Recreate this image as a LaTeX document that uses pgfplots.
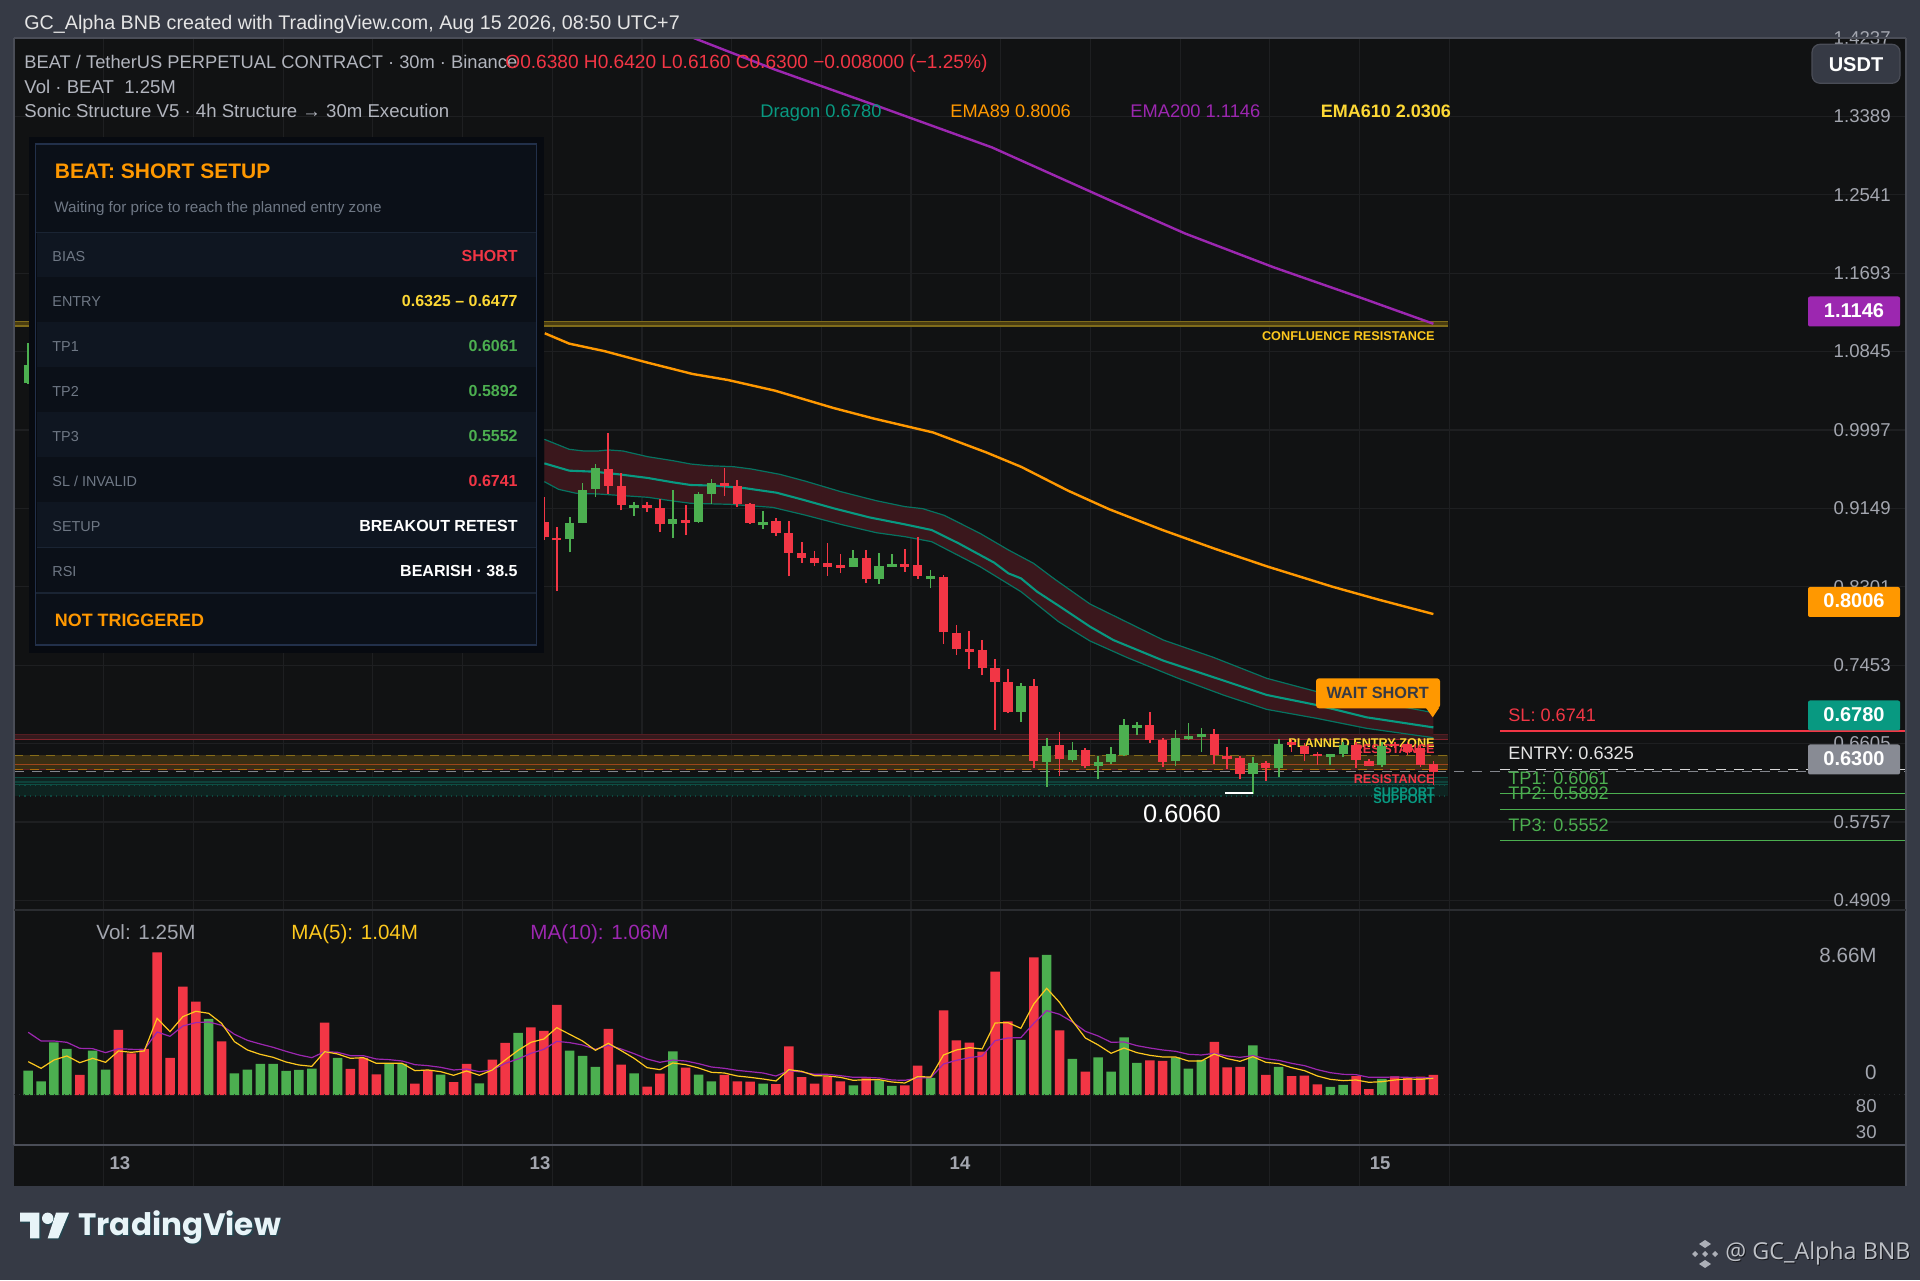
\documentclass[border=0pt]{standalone}
\usepackage{fontspec}
\usepackage{pgfplots}
\usepackage{pgfplotstable}
\pgfplotsset{compat=1.18}
\setmainfont{Liberation Sans}
\newfontfamily\pop{Poppins}
\newfontfamily\opn{Open Sans}
\definecolor{frame}{HTML}{363A45}
\definecolor{body}{HTML}{111213}
\definecolor{gridc}{HTML}{1E1F21}
\definecolor{edge}{HTML}{4A4D57}
\definecolor{tickc}{HTML}{A3A6AF}
\definecolor{legc}{HTML}{B2B5BE}
\definecolor{up}{HTML}{4CAF50}
\definecolor{dn}{HTML}{F23645}
\definecolor{teal}{HTML}{089981}
\definecolor{purp}{HTML}{9C27B0}
\definecolor{org}{HTML}{FF9800}
\definecolor{yel}{HTML}{FDC81E}
\definecolor{yel2}{HTML}{FDD835}
\definecolor{panA}{HTML}{0F1621}
\definecolor{panB}{HTML}{0B1018}
\definecolor{panE}{HTML}{22304A}
\definecolor{panL}{HTML}{1A2433}
\definecolor{panS}{HTML}{070A10}
\definecolor{panT}{HTML}{6F7885}
\definecolor{zoneR}{HTML}{351A1D}
\definecolor{zoneY}{HTML}{3A2F14}
\definecolor{zoneT}{HTML}{0E2320}
\definecolor{zoneC}{HTML}{4A3D10}
\definecolor{bandc}{HTML}{3A171C}
\definecolor{shadowc}{HTML}{23454F}
\definecolor{logoc}{HTML}{E8F4F8}
\pgfplotstableread{
i h t b l
0 1.0938 1.0700 1.0505 1.0494
42 .9059 .8991 .8814 .8674
43 .9420 .9351 .8994 .8987
44 .9633 .9582 .9355 .9272
47 .9222 .9186 .9157 .9070
50 .9351 .9031 .8984 .8832
52 .9323 .9305 .9002 .8994
53 .9463 .9420 .9305 .9196
57 .9121 .9002 .8966 .8930
64 .8695 .8612 .8515 .8515
66 .8663 .8526 .8389 .8331
67 .8652 .8551 .8518 .8518
70 .8479 .8414 .8382 .8291
77 .7257 .7231 .6946 .6842
79 .6665 .6579 .6406 .6135
81 .6622 .6536 .6427 .6402
83 .6471 .6406 .6363 .6218
84 .6572 .6489 .6402 .6384
85 .6867 .6802 .6478 .6471
86 .6838 .6802 .6773 .6701
89 .6752 .6662 .6413 .6363
90 .6824 .6691 .6658 .6647
91 .6773 .6705 .6676 .6514
95 .6456 .6391 .6276 .6060
97 .6651 .6604 .6337 .6244
101 .6492 .6489 .6463 .6370
102 .6626 .6590 .6492 .6456
105 .6626 .6579 .6370 .6348
}\greencandles
\pgfplotstableread{
i h t b l
40 .9276 .9002 .8836 .8807
41 .8944 .8832 .8803 .8255
45 .9961 .9571 .9395 .9305
46 .9528 .9391 .9186 .9128
48 .9222 .9182 .9153 .9113
49 .9247 .9150 .8980 .8894
51 .9182 .9023 .8994 .8861
54 .9589 .9424 .9391 .9283
55 .9452 .9391 .9196 .9160
56 .9211 .9193 .8991 .8984
58 .9041 .9012 .8883 .8850
59 .9012 .8879 .8666 .8414
60 .8785 .8663 .8612 .8562
61 .8684 .8612 .8558 .8522
62 .8771 .8555 .8518 .8421
63 .8652 .8537 .8504 .8450
65 .8702 .8616 .8382 .8342
68 .8713 .8551 .8518 .8461
69 .8843 .8533 .8414 .8385
71 .8425 .8403 .7815 .7682
72 .7891 .7805 .7624 .7563
73 .7823 .7624 .7596 .7415
74 .7725 .7613 .7426 .7343
75 .7523 .7422 .7275 .6752
76 .7412 .7271 .6946 .6932
78 .7303 .7231 .6417 .6337
80 .6734 .6590 .6438 .6254
82 .6553 .6536 .6366 .6337
87 .6943 .6802 .6647 .6615
88 .6662 .6647 .6406 .6352
92 .6763 .6705 .6478 .6384
93 .6572 .6474 .6442 .6330
94 .6474 .6453 .6276 .6218
96 .6420 .6391 .6337 .6204
98 .6651 .6622 .6590 .6518
99 .6608 .6579 .6492 .6413
100 .6518 .6492 .6467 .6373
103 .6626 .6593 .6427 .6344
104 .6442 .6413 .6366 .6363
106 .6626 .6600 .6579 .6554
107 .6626 .6600 .6518 .6481
108 .6590 .6561 .6373 .6348
109 .6420 .6380 .6300 .6160
}\redcandles
\pgfplotsset{
 pane/.style={scale only axis, anchor=south west, width=946pt, xmin=-1.1015, xmax=145.66,
  axis line style={draw=none}, major tick length=0pt,
  xmajorgrids, grid style={color=gridc,line width=.55pt},
  xtick={5.86,12.82,19.78,26.74,33.69,40.66,47.61,54.57,61.52,68.48,75.44,82.40,89.35,96.31,103.26,110.23},
  xticklabels={},
  ytick pos=right, yticklabel pos=right,
  tick label style={text=tickc,inner sep=0pt},
  yticklabel style={anchor=east}},
 hl/.style={line width=.6pt,no markers,forget plot},
}
\newcommand\candles[2]{%
 \addplot[forget plot,draw=none,mark=none,error bars/.cd,y dir=plus,y explicit,error mark=none,
   error bar style={line width=.85pt,color=#2}]
   table[x=i,y=l,y error expr=\thisrow{h}-\thisrow{l}]{#1};
 \addplot[forget plot,draw=none,mark=none,error bars/.cd,y dir=plus,y explicit,error mark=none,
   error bar style={line width=4.65pt,color=#2}]
   table[x=i,y=b,y error expr=\thisrow{t}-\thisrow{b}]{#1};}
\newcommand\hlev[2]{\addplot[hl,#2] coordinates {(-1.1015,#1)(110.14,#1)};}
\newcommand\sz[1]{\fontsize{#1}{#1}\selectfont}
\newcommand\pri[3]{\node[anchor=mid east,inner sep=0pt,text=#3,font=\sz{6.35}\bfseries] at (axis cs:109.13,#1) {#2};}
\newcommand\ptag[3]{\fill[#3,rounded corners=1pt] (1808,#1) rectangle (1900,#1+30);
  \node[text=white,font=\sz{10}\bfseries,inner sep=0pt,anchor=center] at (1854,#1+14) {#2};}
\newcommand\prow[5]{\fill[#5] (36.5,#1) rectangle (535.5,#1+45);
  \draw[panL,line width=.5pt] (36.5,#1+45) -- (535.5,#1+45);
  \node[anchor=mid west,inner sep=0pt,text=panT,font=\sz{7.2}] at (52,#1+24) {#2};
  \node[anchor=mid east,inner sep=0pt,text=#3,font=\sz{8}\bfseries] at (518,#1+24) {#4};}
\begin{document}
\begin{tikzpicture}
\fill[frame] (0,0) rectangle (960pt,640pt);
\fill[body] (7pt,47pt) rectangle (953pt,621pt);
% ---------------- price pane
\begin{axis}[pane, at={(7pt,185pt)}, height=436pt, ymin=0.4805, ymax=1.4237,
 ymajorgrids,
 ytick={1.4237,1.3389,1.2541,1.1693,1.0845,0.9997,0.9149,0.8301,0.7453,0.6605,0.5757,0.4909},
 yticklabels={1.4237,1.3389,1.2541,1.1693,1.0845,0.9997,0.9149,0.8301,0.7453,0.6605,0.5757,0.4909},
 yticklabel style={xshift=-7.5pt,font=\sz{9.3}}]
% zones
\fill[zoneC] (axis cs:-1.1015,1.1173) rectangle (axis cs:110.14,1.1122);
\hlev{1.1173}{color=zoneC!70!yel2}
\hlev{1.1122}{color=zoneC!70!yel2}
\fill[zoneR] (axis cs:-1.1015,.6705) rectangle (axis cs:110.14,.6649);
\hlev{.6705}{color=dn!30!body}
\hlev{.6649}{color=dn!50!body}
\fill[zoneY] (axis cs:-1.1015,.6477) rectangle (axis cs:110.14,.6325);
\hlev{.6477}{color=yel!50!body,line width=.8pt,dash pattern=on 4.5pt off 3.5pt}
\hlev{.6381}{color=org!50!dn!60!body}
\hlev{.6325}{color=dn!35!body,line width=.7pt}
\hlev{.6325}{color=org!65!body,line width=.8pt,dash pattern=on 4.5pt off 3.5pt}
\fill[zoneT] (axis cs:-1.1015,.6240) rectangle (axis cs:110.14,.6165);
\fill[zoneT] (axis cs:-1.1015,.6152) rectangle (axis cs:110.14,.6038);
\hlev{.6240}{color=teal!45!body}
\hlev{.6190}{color=teal!35!body}
\hlev{.6165}{color=teal!45!body}
\hlev{.6152}{color=teal!40!body,dotted}
\hlev{.6038}{color=teal!40!body,dotted}
\addplot[hl,color=tickc!80!black,line width=.6pt,dash pattern=on 5pt off 4pt] coordinates {(-1.1015,.6300)(145.66,.6300)};
% right-hand levels
\addplot[hl,color=dn,line width=.55pt] coordinates {(114.17,.6741)(145.66,.6741)};
\addplot[hl,color=white!85!black,line width=.5pt,dash pattern=on 5pt off 4pt] coordinates {(114.17,.6325)(145.66,.6325)};
\addplot[hl,color=up,line width=.5pt] coordinates {(114.17,.6061)(145.66,.6061)};
\addplot[hl,color=up,line width=.5pt] coordinates {(114.17,.5892)(145.66,.5892)};
\addplot[hl,color=up,line width=.5pt] coordinates {(114.17,.5552)(145.66,.5552)};
% dragon band: upper edge forward, lower edge back
\addplot[fill=bandc,draw=none,forget plot] coordinates {
(40.04,.9896)(41.97,.9788)(43.08,.9770)(44.19,.9770)(45.02,.9781)(46.13,.9770)(48.06,.9708)(50.01,.9665)(51.39,.9629)(52.77,.9611)(54.71,.9600)(56.10,.9575)(58.32,.9517)(60.25,.9445)(63.03,.9330)(65.79,.9232)(68.01,.9168)(69.39,.9146)(71.05,.9074)(73.83,.8879)(76.04,.8699)(77.98,.8555)(79.64,.8382)(82.36,.8115)(88.05,.7725)(91.93,.7538)(96.07,.7311)(99.95,.7167)(103.82,.7076)(109,.6939)
(109,.6669)(103.82,.6770)(99.95,.6878)(96.07,.6975)(92.71,.7130)(89.08,.7318)(85.20,.7538)(82.36,.7715)(79.92,.7924)(77.01,.8248)(73.83,.8519)(70.08,.8789)(68.01,.8843)(65.79,.8886)(63.03,.8976)(60.25,.9077)(57.75,.9160)(54.44,.9193)(51.39,.9204)(50.01,.9229)(48.06,.9269)(46.13,.9287)(44.19,.9305)(42.52,.9312)(41.14,.9355)(40.04,.9438)};
\addplot[color=teal!75!black,line width=.6pt,forget plot] coordinates {
(40.04,.9896)(41.97,.9788)(43.08,.9770)(44.19,.9770)(45.02,.9781)(46.13,.9770)(48.06,.9708)(50.01,.9665)(51.39,.9629)(52.77,.9611)(54.71,.9600)(56.10,.9575)(58.32,.9517)(60.25,.9445)(63.03,.9330)(65.79,.9232)(68.01,.9168)(69.39,.9146)(71.05,.9074)(73.83,.8879)(76.04,.8699)(77.98,.8555)(79.64,.8382)(82.36,.8115)(88.05,.7725)(91.93,.7538)(96.07,.7311)(99.95,.7167)(103.82,.7076)(109,.6939)};
\addplot[color=teal!75!black,line width=.6pt,forget plot] coordinates {
(40.04,.9438)(41.14,.9355)(42.52,.9312)(44.19,.9305)(46.13,.9287)(48.06,.9269)(50.01,.9229)(51.39,.9204)(54.44,.9193)(57.75,.9160)(60.25,.9077)(63.03,.8976)(65.79,.8886)(68.01,.8843)(70.08,.8789)(73.83,.8519)(77.01,.8248)(79.92,.7924)(82.36,.7715)(85.20,.7538)(89.08,.7318)(92.71,.7130)(96.07,.6975)(99.95,.6878)(103.82,.6770)(109,.6669)};
\addplot[color=teal,line width=1.05pt,forget plot] coordinates {
(40.04,.9636)(41.97,.9557)(43.91,.9546)(45.85,.9517)(48.06,.9478)(50.01,.9431)(51.39,.9402)(53.33,.9395)(55.54,.9369)(58.04,.9319)(59.98,.9247)(62.47,.9150)(65.24,.9052)(68.01,.8976)(70.08,.8915)(72.17,.8771)(74.93,.8562)(76.04,.8446)(77.01,.8392)(78.26,.8248)(79.92,.8097)(82.36,.7870)(84.17,.7725)(88.05,.7502)(91.42,.7347)(96.07,.7131)(99.95,.7022)(103.82,.6889)(109,.6780)};
% EMAs
\addplot[color=org,line width=1.2pt,forget plot] coordinates {
(40.07,1.1043)(41.97,1.0931)(44.70,1.0850)(47.89,1.0731)(51.53,1.0603)(54.27,1.0538)(57.91,1.0423)(62.46,1.0235)(65.64,1.0119)(70.20,.9970)(74.29,.9756)(77.03,.9598)(80.67,.9340)(83.85,.9140)(87.95,.8917)(92.05,.8712)(96.15,.8519)(101.16,.8302)(104.80,.8160)(109,.8006)};
\addplot[color=purp,line width=1.2pt,forget plot] coordinates {
(51.01,1.4270)(57.91,1.3896)(66.10,1.3490)(74.75,1.3054)(83.85,1.2485)(89.76,1.2121)(96.60,1.1757)(103.42,1.1425)(109,1.1146)};
% labels behind the candles
\pri{.6622}{PLANNED ENTRY ZONE}{yel2}
\pri{.6550}{RESISTANCE}{dn}
% candles
\candles{\greencandles}{up}
\candles{\redcandles}{dn}
% labels above them
\pri{1.1024}{CONFLUENCE RESISTANCE}{yel}
\pri{.6233}{RESISTANCE}{dn}
\pri{.6095}{SUPPORT}{teal}
\pri{.6009}{SUPPORT}{teal}
\end{axis}
% ---------------- volume pane
\begin{axis}[pane, at={(7pt,92.5pt)}, height=92.5pt, ymin=0, ymax=11.44,
 ytick={8.66}, yticklabels={8.66M}, extra y ticks={0}, extra y tick labels={0},
 extra y tick style={yticklabel style={yshift=11.5pt}},
 yticklabel style={xshift=-14.5pt,font=\sz{10.3}}]
\addplot[ybar,bar width=4.75pt,bar shift=0pt,fill=up,draw=none,forget plot] coordinates {
(0,1.505)(1,.845)(2,3.258)(3,2.846)(5,2.742)(6,1.567)(14,4.701)(16,1.34)(17,1.567)(18,1.918)(19,1.918)(20,1.485)(21,1.547)(22,1.629)(24,2.289)(28,1.959)(29,1.918)(32,1.258)(35,.722)(38,3.835)(42,2.742)(43,2.413)(44,1.732)(47,1.34)(50,2.701)(52,1.258)(53,.845)(57,.701)(64,.598)(66,.907)(67,.557)(70,1.052)(77,3.402)(79,8.66)(81,2.227)(83,2.33)(84,1.443)(85,3.567)(86,1.98)(89,2.33)(90,1.629)(91,2.165)(95,3.072)(97,1.732)(101,.495)(102,.619)(105,.99)};
\addplot[ybar,bar width=4.75pt,bar shift=0pt,fill=dn,draw=none,forget plot] coordinates {
(4,1.237)(7,4.021)(8,2.578)(9,2.846)(10,8.825)(11,2.289)(12,6.70)(13,5.774)(15,3.32)(23,4.475)(25,1.608)(26,2.289)(27,1.278)(30,.701)(31,1.547)(33,.804)(34,1.918)(36,2.186)(37,3.217)(39,4.186)(40,3.959)(41,5.567)(45,4.083)(46,1.876)(48,.516)(49,1.32)(51,1.691)(54,1.237)(55,.845)(56,.825)(58,.68)(59,3.011)(60,1.113)(61,.701)(62,1.134)(63,.845)(65,1.031)(68,.598)(69,1.815)(71,5.237)(72,3.382)(73,3.237)(74,2.681)(75,7.629)(76,4.557)(78,8.516)(80,4.0)(82,1.443)(87,2.144)(88,2.103)(92,3.279)(93,1.711)(94,1.732)(96,1.237)(98,1.175)(99,1.196)(100,.66)(103,1.175)(104,.371)(106,1.155)(107,1.072)(108,1.134)(109,1.25)};
\addplot[color=purp,line width=.6pt,forget plot] coordinates {
(0,3.877)(1,3.34)(2,3.34)(3,3.258)(4,2.887)(5,2.866)(6,2.619)(7,2.866)(8,2.825)(9,2.804)(10,3.897)(11,3.629)(12,4.268)(13,4.475)(14,4.516)(15,4.31)(16,3.753)(17,3.382)(18,3.155)(19,2.949)(20,2.701)(21,2.474)(22,2.309)(23,2.681)(24,2.639)(25,2.433)(26,2.433)(27,2.227)(28,2.186)(29,2.103)(30,1.876)(31,1.815)(32,1.711)(33,1.547)(34,1.608)(35,1.443)(36,1.547)(37,1.959)(38,2.227)(39,2.578)(40,2.825)(41,3.32)(42,3.237)(43,3.093)(44,2.825)(45,3.072)(46,2.846)(47,2.557)(48,2.227)(49,2.021)(50,2.165)(51,2.103)(52,1.938)(53,1.732)(54,1.65)(55,1.526)(56,1.443)(57,1.361)(58,1.175)(59,1.505)(60,1.423)(61,1.278)(62,1.278)(63,1.196)(64,1.093)(65,1.093)(66,1.052)(67,.928)(68,.907)(69,1.052)(70,1.072)(71,1.918)(72,2.144)(73,2.309)(74,2.413)(75,3.361)(76,3.526)(77,3.547)(78,4.433)(79,5.217)(80,4.99)(81,4.516)(82,3.938)(83,3.65)(84,3.258)(85,3.279)(86,3.052)(87,2.907)(88,2.784)(89,2.701)(90,2.516)(91,2.474)(92,2.578)(93,2.413)(94,2.33)(95,2.433)(96,2.248)(97,2.144)(98,1.959)(99,1.815)(100,1.567)(101,1.382)(102,1.278)(103,1.258)(104,1.093)(105,1.093)(106,1.113)(107,1.093)(108,1.072)(109,1.06)};
\addplot[color=yel,line width=.6pt,forget plot] coordinates {
(0,2.062)(1,1.650)(2,2.165)(3,2.413)(4,2.0)(5,2.268)(6,2.021)(7,2.722)(8,2.639)(9,2.722)(10,4.743)(11,3.918)(12,4.846)(13,5.176)(14,5.052)(15,4.433)(16,3.299)(17,2.784)(18,2.516)(19,2.33)(20,2.041)(21,1.856)(22,1.773)(23,2.681)(24,2.536)(25,2.268)(26,2.309)(27,1.959)(28,1.959)(29,1.959)(30,1.505)(31,1.547)(32,1.443)(33,1.217)(34,1.485)(35,1.217)(36,1.547)(37,2.165)(38,2.763)(39,3.258)(40,3.464)(41,4.165)(42,3.753)(43,3.34)(44,2.763)(45,3.196)(46,2.742)(47,2.268)(48,1.691)(49,1.567)(50,1.98)(51,1.876)(52,1.67)(53,1.402)(54,1.361)(55,1.175)(56,1.093)(57,.99)(58,.866)(59,1.567)(60,1.464)(61,1.196)(62,1.175)(63,1.093)(64,.907)(65,.949)(66,.949)(67,.804)(68,.742)(69,1.134)(70,1.113)(71,2.474)(72,2.784)(73,2.928)(74,2.846)(75,4.454)(76,4.475)(77,4.124)(78,5.629)(79,6.598)(80,5.732)(81,4.578)(82,3.526)(83,3.093)(84,2.578)(85,2.907)(86,2.619)(87,2.454)(88,2.351)(89,2.351)(90,2.103)(91,2.103)(92,2.536)(93,2.248)(94,2.083)(95,2.371)(96,2.021)(97,1.938)(98,1.691)(99,1.505)(100,1.175)(101,.969)(102,.887)(103,.928)(104,.784)(105,.825)(106,.928)(107,.99)(108,.969)(109,1.04)};
\end{axis}
% ---------------- oscillator pane
\begin{axis}[pane, at={(7pt,67.5pt)}, height=25pt, ymin=5, ymax=101.15,
 ytick={30,80}, yticklabels={30,80}, yticklabel style={xshift=-14.5pt,font=\sz{9.3}}]
\end{axis}
% ---------------- time row
\begin{axis}[pane, at={(7pt,47pt)}, height=20.5pt, ymin=0, ymax=1, ytick=\empty,
 extra x ticks={7.12,39.70,72.28,104.87}, extra x tick labels={13,13,14,15},
 extra x tick style={xmajorgrids=false,xticklabel style={anchor=center,yshift=11.5pt,font=\sz{9.25}\bfseries}}]
\end{axis}
% ---------------- overlays in picture pixels
\begin{scope}[shift={(0,640pt)},x=.5pt,y=-.5pt]
% pane frame
\draw[edge,line width=.6pt] (14,38) -- (1906,38);
\draw[edge,line width=.6pt] (14,38) -- (14,1145);
\draw[edge,line width=.7pt] (1906,38) -- (1906,1186);
\draw[edge,line width=1pt] (14,1145) -- (1906,1145);
\draw[gridc!70!edge,line width=.7pt] (14,910) -- (1906,910);
\draw[gridc!70!edge,line width=.5pt,dotted] (14,1094) -- (1906,1094);
% panel
\fill[panS] (28.8,137) rectangle (544,653);
\fill[panB] (36,145) rectangle (536,232.3);
\prow{232.3}{BIAS}{dn}{SHORT}{panA}
\prow{277.4}{ENTRY}{yel2}{0.6325 – 0.6477}{panB}
\prow{322.4}{TP1}{up}{0.6061}{panA}
\prow{367.4}{TP2}{up}{0.5892}{panB}
\prow{412.5}{TP3}{up}{0.5552}{panA}
\prow{457.5}{SL / INVALID}{dn}{0.6741}{panB}
\prow{502.5}{SETUP}{white}{BREAKOUT RETEST}{panA}
\prow{547.6}{RSI}{white}{BEARISH · 38.5}{panB}
\fill[panB] (36,592.6) rectangle (536,645);
\draw[panL,line width=.5pt] (36,232.3) -- (536,232.3);
\draw[panL,line width=1pt] (36,592.6) -- (536,592.6);
\draw[panE,line width=.9pt] (35.5,144.4) rectangle (536.4,645);
\node[anchor=mid west,inner sep=0pt,text=org,font=\sz{10.5}\bfseries] at (54.5,173.5) {BEAT: SHORT SETUP};
\node[anchor=mid west,inner sep=0pt,text=panT,font=\sz{7.6}] at (54,207) {Waiting for price to reach the planned entry zone};
\node[anchor=mid west,inner sep=0pt,text=org,font=\sz{8.95}\bfseries] at (54.5,620.8) {NOT TRIGGERED};
% header and legends
\node[anchor=mid west,inner sep=0pt,text=white!90!black,font=\sz{9.85}] at (24,24) {GC\_Alpha BNB created with TradingView.com, Aug 15 2026, 08:50 UTC+7};
\node[anchor=mid west,inner sep=0pt,text=legc,font=\sz{9.15}] at (24,63) {BEAT / TetherUS PERPETUAL CONTRACT · 30m · Binance};
\node[anchor=mid west,inner sep=0pt,text=dn,font=\sz{9.55}] at (505,63) {O0.6380 H0.6420 L0.6160 C0.6300 −0.008000 (−1.25\%)};
\node[anchor=mid west,inner sep=0pt,text=legc,font=\sz{9.3}] at (24,88) {Vol · BEAT\ \ 1.25M};
\node[anchor=mid west,inner sep=0pt,text=legc,font=\sz{9.3}] at (24,112.5) {Sonic Structure V5 · 4h Structure → 30m Execution};
\node[anchor=mid west,inner sep=0pt,text=teal,font=\sz{9.15}] at (760,112.5) {Dragon 0.6780};
\node[anchor=mid west,inner sep=0pt,text=org,font=\sz{9.1}] at (950,112.5) {EMA89 0.8006};
\node[anchor=mid west,inner sep=0pt,text=purp,font=\sz{9.15}] at (1130,112.5) {EMA200 1.1146};
\node[anchor=mid west,inner sep=0pt,text=yel2,font=\sz{9}\bfseries] at (1320.5,112.5) {EMA610 2.0306};
\node[anchor=mid west,inner sep=0pt,text=tickc,font=\sz{10.3}] at (96,934) {Vol: 1.25M};
\node[anchor=mid west,inner sep=0pt,text=yel,font=\sz{10.3}] at (291,934) {MA(5): 1.04M};
\node[anchor=mid west,inner sep=0pt,text=purp,font=\sz{10.3}] at (530,934) {MA(10): 1.06M};
% USDT and price tags
\fill[frame,draw=edge,line width=.6pt,rounded corners=4pt] (1812,44.3) rectangle (1900,83.3);
\node[text=white,font=\sz{10}\bfseries,inner sep=0pt] at (1856,65) {USDT};
\ptag{296.5}{1.1146}{purp}
\ptag{587}{0.8006}{org}
\ptag{700.5}{0.6780}{teal}
\ptag{744.5}{0.6300}{tickc!75!frame}
% chart annotations
\fill[org,rounded corners=1.5pt] (1316,678.3) rectangle (1440,708.3);
\fill[org] (1426,708) -- (1439,708) -- (1432.7,717.3) -- cycle;
\node[text=frame,font=\sz{8.15}\bfseries,inner sep=0pt] at (1377.7,693) {WAIT SHORT};
\draw[white,line width=.7pt] (1225,793) -- (1253,793);
\node[text=white,font=\sz{12.7},inner sep=0pt] at (1182,813.5) {0.6060};
\node[anchor=mid west,inner sep=0pt,text=dn,font=\sz{9.05}] at (1508,716.3) {SL: 0.6741};
\node[anchor=mid west,inner sep=0pt,text=white!90!black,font=\sz{9.05}] at (1508,754) {ENTRY: 0.6325};
\node[anchor=mid west,inner sep=0pt,text=up,font=\sz{9.05}] at (1508,778.8) {TP1: 0.6061};
\node[anchor=mid west,inner sep=0pt,text=up,font=\sz{9.05}] at (1508,794.7) {TP2: 0.5892};
\node[anchor=mid west,inner sep=0pt,text=up,font=\sz{9.05}] at (1508,826.5) {TP3: 0.5552};
% TradingView mark
\foreach \dx/\dy/\c in {1.3/1.3/shadowc,0/0/logoc}{
 \begin{scope}[shift={(\dx,\dy)}]
 \fill[\c] (20,1212.7) -- (39.3,1212.7) -- (39.3,1238.3) -- (30,1238.3) -- (30,1221.7) -- (20,1221.7) -- cycle;
 \fill[\c] (47.7,1218.3) circle (5.7);
 \fill[\c] (56,1212.7) -- (69,1212.7) -- (58.3,1238.3) -- (47.7,1238.3) -- cycle;
 \node[anchor=west,inner sep=0pt,text=\c,font=\pop\sz{15.5}\bfseries] at (78,1227) {TradingView};
 \end{scope}}
% watermark
\foreach \a/\b in {1705/1244,1705/1264}{\fill[tickc!90!white] (\a-6,\b) -- (\a,\b-4) -- (\a+6,\b) -- (\a,\b+4) -- cycle;}
\foreach \a/\b in {1695/1254,1715/1254,1705/1254}{\fill[tickc!90!white] (\a-3,\b) -- (\a,\b-3) -- (\a+3,\b) -- (\a,\b+3) -- cycle;}
\node[anchor=mid west,inner sep=0pt,text=black!60!frame,font=\opn\sz{11.65}] at (1726,1255) {@ GC\_Alpha BNB};
\node[anchor=mid west,inner sep=0pt,text=tickc!70!white,font=\opn\sz{11.65}] at (1725,1254) {@ GC\_Alpha BNB};
\end{scope}
\end{tikzpicture}
\end{document}
